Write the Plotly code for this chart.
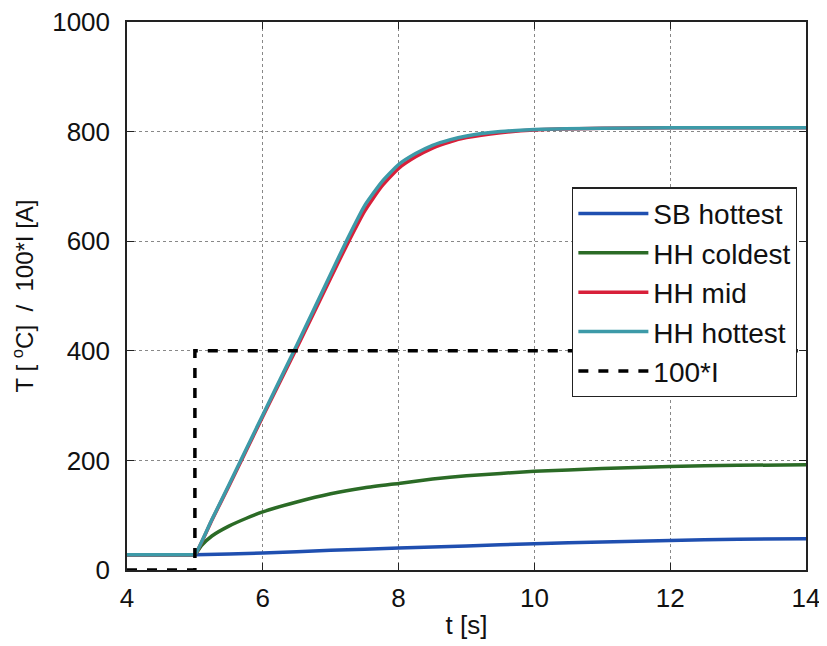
import plotly.graph_objects as go

# ---- data ----
t_sb = [4, 4.5, 5, 6, 7, 8, 9, 10, 11, 12, 13, 14]
sb_hottest = [28, 28, 28, 31, 36, 40, 44, 48, 51, 54, 56, 57]

t_cold = [4, 4.5, 4.9, 5, 5.1, 5.25, 5.5, 5.75, 6, 6.5, 7, 7.5, 8, 8.5, 9, 10, 11, 12, 13, 14]
hh_coldest = [28, 28, 28, 28, 45, 62, 80, 94, 106, 124, 139, 150, 158, 166, 172, 180, 185, 189, 191, 192]

t_hot = [4, 4.5, 4.95, 5, 5.25, 5.5, 6, 6.5, 7, 7.25, 7.5, 7.75, 8, 8.25, 8.5, 8.75, 9, 9.5, 10, 11, 12, 13, 14]
hh_mid = [28, 28, 28, 28, 91, 153, 280, 405, 533, 596, 655, 700, 733, 754, 770, 781, 789, 798, 803, 806, 807, 807, 807]
hh_hottest = [28, 28, 28, 28, 92, 155, 283, 410, 540, 605, 665, 708, 740, 760, 775, 785, 792, 800, 804, 806, 807, 807, 807]

t_cur = [4, 5, 5, 14]
current_x100 = [0, 0, 400, 400]

x_ticks = [4, 6, 8, 10, 12, 14]
y_ticks = [0, 200, 400, 600, 800, 1000]

FONT = "Liberation Sans, Arial, sans-serif"

fig = go.Figure()
fig.add_trace(go.Scatter(x=t_sb, y=sb_hottest, mode="lines", name="SB hottest",
                         line=dict(color="#1f4fb0", width=3.5, shape="spline", smoothing=0.5),
                         legendgroup="a"))
fig.add_trace(go.Scatter(x=t_cold, y=hh_coldest, mode="lines", name="HH coldest",
                         line=dict(color="#2b6b26", width=3.5, shape="spline", smoothing=0.5),
                         legendgroup="b"))
fig.add_trace(go.Scatter(x=t_hot, y=hh_mid, mode="lines", name="HH mid",
                         line=dict(color="#d8203a", width=3.5, shape="spline", smoothing=0.5),
                         legendgroup="c"))
fig.add_trace(go.Scatter(x=t_hot, y=hh_hottest, mode="lines", name="HH hottest",
                         line=dict(color="#3d9aa8", width=3.5, shape="spline", smoothing=0.5),
                         legendgroup="d"))
fig.add_trace(go.Scatter(x=t_cur, y=current_x100, mode="lines", name="100*I",
                         line=dict(color="black", width=3.5, dash="10px,10px"),
                         legendgroup="e"))

axis_common = dict(
    showline=True, linecolor="#222", linewidth=1.5, mirror="ticks",
    ticks="inside", ticklen=7, tickcolor="#222", tickwidth=1.2,
    showgrid=True, gridcolor="#888", griddash="dot", gridwidth=1,
    zeroline=False, automargin=False, ticklabeloverflow="allow",
    tickfont=dict(family=FONT, size=26, color="#111"),
)

# page body has an 8px margin, so the figure is sized to end at the window edge
fig.update_layout(
    width=819, height=638,
    margin=dict(l=119, r=21, t=14, b=76),
    paper_bgcolor="white", plot_bgcolor="white",
    font=dict(family=FONT, color="#111"),
    xaxis=dict(range=[4, 14], tickvals=x_ticks, ticklabelstandoff=4,
               title=dict(text="t [s]", font=dict(family=FONT, size=26), standoff=4),
               **axis_common),
    yaxis=dict(range=[0, 1000], tickvals=y_ticks, ticklabelstandoff=10,
               title=dict(text="T [ <sup>o</sup>C]  /  100*I [A]", font=dict(family=FONT, size=24), standoff=14),
               **axis_common),
    legend=dict(x=0.987, y=0.698, xanchor="right", yanchor="top",
                bgcolor="white", bordercolor="#222", borderwidth=1.2,
                font=dict(family=FONT, size=28, color="#111"),
                traceorder="grouped", tracegroupgap=0, itemwidth=70),
    showlegend=True,
)

fig.write_html("out.html")
